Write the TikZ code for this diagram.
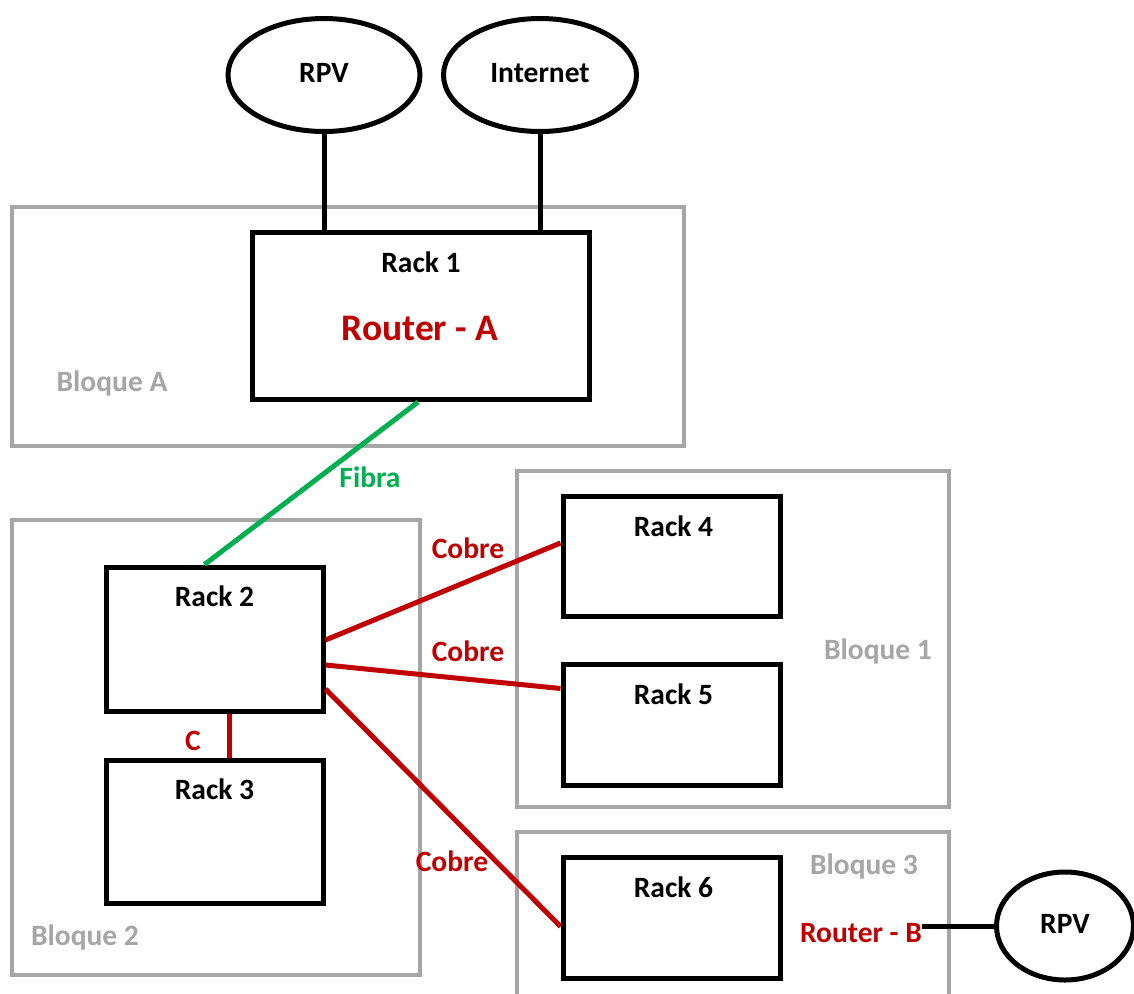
\documentclass[tikz,border=0pt]{standalone}
\usepackage{fontspec}
\setmainfont{Carlito}
\usetikzlibrary{shapes.geometric,calc}
\definecolor{bgray}{HTML}{A6A6A6}
\definecolor{cred}{HTML}{C00000}
\definecolor{fgreen}{HTML}{00B050}
\begin{document}
\begin{tikzpicture}[x=1pt,y=-1pt,
  rack/.style={draw=black,line width=5pt,rectangle,inner sep=0pt,fill=white},
  cloud/.style={draw=black,line width=5pt,ellipse,inner sep=0pt,fill=white,font=\fontsize{29.5}{31}\selectfont\bfseries},
  block/.style={draw=bgray,line width=4pt},
  blocklabel/.style={text=bgray,font=\fontsize{29.5}{31}\selectfont\bfseries,inner sep=0pt},
  racklabel/.style={text=black,font=\fontsize{29.5}{31}\selectfont\bfseries,inner sep=0pt},
  redlabel/.style={text=cred,font=\fontsize{29.5}{31}\selectfont\bfseries,inner sep=0pt},
  greenlabel/.style={text=fgreen,font=\fontsize{29.5}{31}\selectfont\bfseries,inner sep=0pt},
  wire/.style={draw=black,line width=5pt},
  copper/.style={draw=cred,line width=5pt},
  fiber/.style={draw=fgreen,line width=5pt}]
\useasboundingbox[fill=white] (0,0) rectangle (1134,993);
% blocks
\draw[block] (12,207) rectangle (684,446);
\draw[block] (12,520) rectangle (420,975);
\draw[block] (517,471) rectangle (949,807);
\draw[block] (517,832) rectangle (949,1010);
\node[blocklabel] (lA) at (112,383) {Bloque A};
\node[blocklabel] (l2) at (85,937) {Bloque 2};
\node[blocklabel] (l1) at (878,651) {Bloque 1};
\node[blocklabel] (l3) at (864,866) {Bloque 3};
% clouds
\node[cloud,minimum width=192pt,minimum height=113pt] (rpv1) at (324,75) {RPV\vphantom{g}};
\node[cloud,minimum width=193pt,minimum height=113pt] (inet) at (540,75) {Internet\vphantom{g}};
\node[cloud,minimum width=137pt,minimum height=108pt] (rpv2) at (1065,926) {RPV\vphantom{g}};
% racks
\node[rack,minimum width=337pt,minimum height=167pt] (r1) at (421,316) {};
\node[rack,minimum width=217pt,minimum height=144pt] (r2) at (214.5,639) {};
\node[rack,minimum width=217pt,minimum height=143pt] (r3) at (214.5,831.5) {};
\node[rack,minimum width=217pt,minimum height=120pt] (r4) at (671.5,556) {};
\node[rack,minimum width=217pt,minimum height=121pt] (r5) at (671.5,724.5) {};
\node[rack,minimum width=217pt,minimum height=121pt] (r6) at (671.5,917.5) {};
\node[racklabel] (t1) at ($(r1.north)+(0,32)$) {Rack 1};
\node[racklabel] (t2) at ($(r2.north)+(0,32)$) {Rack 2};
\node[racklabel] (t3) at ($(r3.north)+(0,32)$) {Rack 3};
\node[racklabel] (t4) at ($(r4.north)+(2,33)$) {Rack 4};
\node[racklabel] (t5) at ($(r5.north)+(2,33)$) {Rack 5};
\node[racklabel] (t6) at ($(r6.north)+(2,33)$) {Rack 6};
\node[redlabel,font=\fontsize{37.5}{39}\selectfont\bfseries] (ra) at (420,328) {Router - A};
% connectors
\draw[wire] (rpv1.south) -- (rpv1.south |- r1.north);
\draw[wire] (inet.south) -- (inet.south |- r1.north);
\draw[fiber] ($(r1.south)+(-3,0)$) -- ($(r2.north)+(-10,0)$);
\node[greenlabel] (fl) at (370,477) {Fibra};
\draw[copper] ($(r2.south)+(14.5,0)$) -- ($(r3.north)+(14.5,0)$);
\node[redlabel] (cl) at (193,741) {C};
\draw[copper] ($(r2.east)+(0,1)$) -- ($(r4.west)+(0,-13)$);
\draw[copper] ($(r2.east)+(0,26)$) -- ($(r5.west)+(0,-36)$);
\draw[copper] ($(r2.east)+(0,50)$) -- ($(r6.west)+(0,9)$);
\node[redlabel] (c1) at (468,548) {Cobre};
\node[redlabel] (c2) at (468,651) {Cobre};
\node[redlabel] (c3) at (452,861) {Cobre};
\node[redlabel] (rb) at (861,933) {Router - B};
\draw[wire] (rb.east |- rpv2.west) -- (rpv2.west);
\end{tikzpicture}
\end{document}
